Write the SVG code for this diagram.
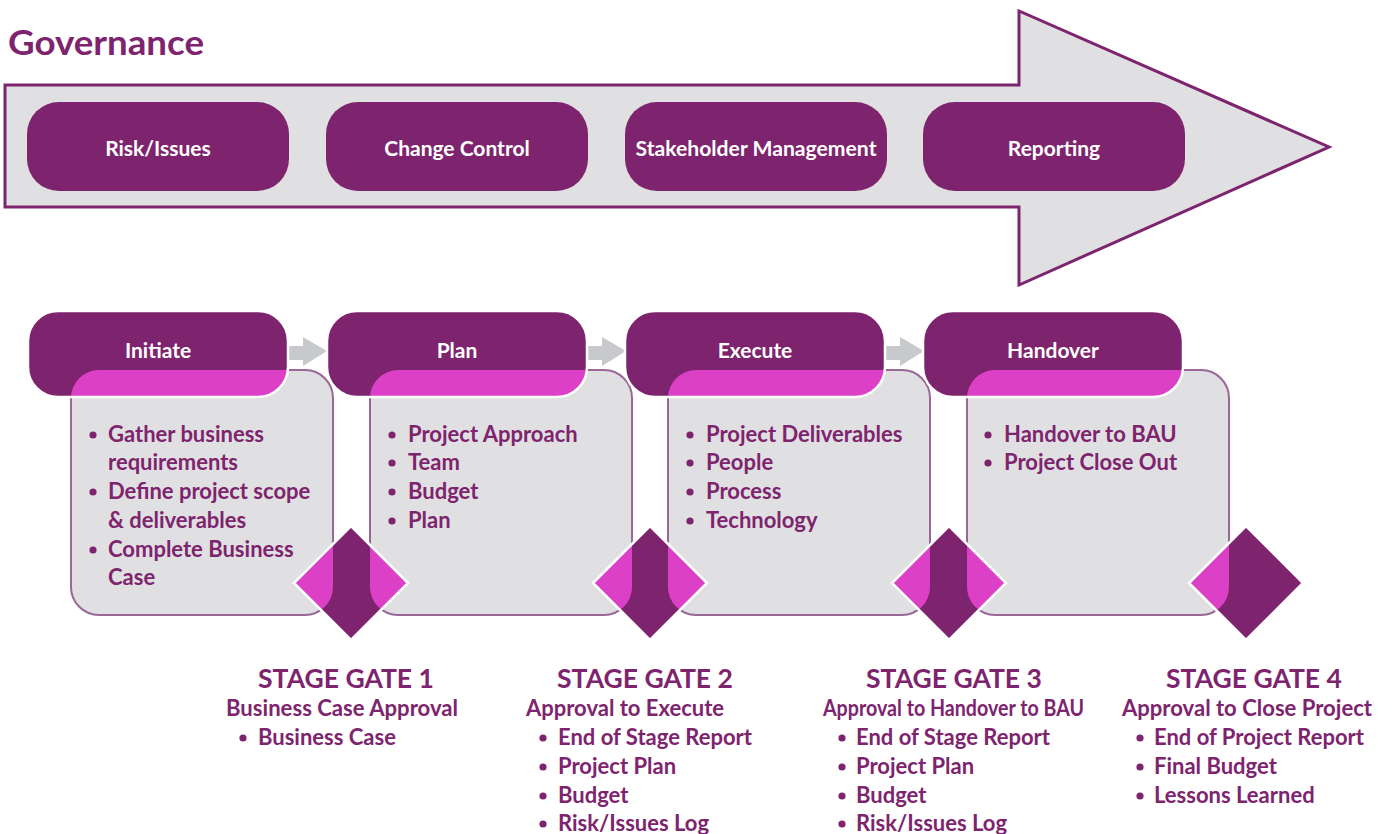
<svg xmlns="http://www.w3.org/2000/svg" width="1392" height="834" viewBox="0 0 1392 834">
<style>
text{font-family:Lato,"Open Sans","Liberation Sans",sans-serif;font-weight:bold}
.pill{fill:#7E246E}
.wl{fill:#FFFFFF;font-size:21px;text-anchor:middle}
.card{fill:#E0E0E2;stroke:#9A6896;stroke-width:2}
.hdr{fill:#7E246E}
.hdrline{fill:none;stroke:#FFFFFF;stroke-width:2.5}
.pink{fill:#DB40C7}
.dia{fill:#7E246E}
.dialine{fill:none;stroke:#FFFFFF;stroke-width:2.5}
.ct{fill:#7E246E;font-size:22px}
.gh{fill:#7E246E;font-size:26.5px;text-anchor:middle}
.gs{fill:#7E246E;font-size:22px}
.dot{fill:#7E246E}
.conn{fill:#C7C9CD}
</style>
<defs>
<clipPath id="cards">
<rect x="71" y="370" width="262" height="245" rx="28"/>
<rect x="370" y="370" width="262" height="245" rx="28"/>
<rect x="668" y="370" width="262" height="245" rx="28"/>
<rect x="967" y="370" width="262" height="245" rx="28"/>
</clipPath>
</defs>
<rect width="1392" height="834" fill="#FFFFFF"/>
<g id="title">
<text x="8" y="55" style="font-size:35px;fill:#7E246E" textLength="196" lengthAdjust="spacingAndGlyphs">Governance</text>
</g>
<g id="governance-arrow">
<polygon points="5,85 1019,85 1019,11 1329,147 1019,285 1019,207 5,207" fill="#E0E0E2" stroke="#7E246E" stroke-width="3"/>
</g>
<g id="gov-risk">
<rect class="pill" x="27" y="102" width="262" height="89" rx="32"/>
<text class="wl" x="158" y="156">Risk/Issues</text>
</g>
<g id="gov-change">
<rect class="pill" x="326" y="102" width="262" height="89" rx="32"/>
<text class="wl" x="457" y="156">Change Control</text>
</g>
<g id="gov-stakeholder">
<rect class="pill" x="625" y="102" width="262" height="89" rx="32"/>
<text class="wl" x="756" y="156" textLength="241" lengthAdjust="spacingAndGlyphs">Stakeholder Management</text>
</g>
<g id="gov-reporting">
<rect class="pill" x="923" y="102" width="262" height="89" rx="32"/>
<text class="wl" x="1054" y="156">Reporting</text>
</g>
<g id="connectors">
<rect class="conn" x="286" y="346" width="18" height="14"/>
<polygon class="conn" points="303,337 327,351 303,366"/>
<rect class="conn" x="585" y="346" width="18" height="14"/>
<polygon class="conn" points="602,337 626,351 602,366"/>
<rect class="conn" x="883" y="346" width="18" height="14"/>
<polygon class="conn" points="900,337 924,351 900,366"/>
</g>
<g id="stage-initiate">
<rect class="card" x="71" y="370" width="262" height="245" rx="28"/>
<rect class="hdr" x="28" y="311" width="260" height="86" rx="30"/>
<rect class="pink" x="28" y="311" width="260" height="86" rx="30" clip-path="url(#cards)"/>
<rect class="hdrline" x="28" y="311" width="260" height="86" rx="30"/>
<text class="wl" x="158" y="358">Initiate</text>
<circle class="dot" cx="93" cy="435" r="3.6"/>
<text class="ct" x="108" y="442">Gather business</text>
<text class="ct" x="108" y="470">requirements</text>
<circle class="dot" cx="93" cy="492" r="3.6"/>
<text class="ct" x="108" y="499">Define project scope</text>
<text class="ct" x="108" y="528">&amp; deliverables</text>
<circle class="dot" cx="93" cy="550" r="3.6"/>
<text class="ct" x="108" y="557">Complete Business</text>
<text class="ct" x="108" y="585">Case</text>
</g>
<g id="stage-plan">
<rect class="card" x="370" y="370" width="262" height="245" rx="28"/>
<rect class="hdr" x="327" y="311" width="260" height="86" rx="30"/>
<rect class="pink" x="327" y="311" width="260" height="86" rx="30" clip-path="url(#cards)"/>
<rect class="hdrline" x="327" y="311" width="260" height="86" rx="30"/>
<text class="wl" x="457" y="358">Plan</text>
<circle class="dot" cx="392" cy="435" r="3.6"/>
<text class="ct" x="408" y="442">Project Approach</text>
<circle class="dot" cx="392" cy="463" r="3.6"/>
<text class="ct" x="408" y="470">Team</text>
<circle class="dot" cx="392" cy="492" r="3.6"/>
<text class="ct" x="408" y="499">Budget</text>
<circle class="dot" cx="392" cy="521" r="3.6"/>
<text class="ct" x="408" y="528">Plan</text>
</g>
<g id="stage-execute">
<rect class="card" x="668" y="370" width="262" height="245" rx="28"/>
<rect class="hdr" x="625" y="311" width="260" height="86" rx="30"/>
<rect class="pink" x="625" y="311" width="260" height="86" rx="30" clip-path="url(#cards)"/>
<rect class="hdrline" x="625" y="311" width="260" height="86" rx="30"/>
<text class="wl" x="755" y="358">Execute</text>
<circle class="dot" cx="690" cy="435" r="3.6"/>
<text class="ct" x="706" y="442">Project Deliverables</text>
<circle class="dot" cx="690" cy="463" r="3.6"/>
<text class="ct" x="706" y="470">People</text>
<circle class="dot" cx="690" cy="492" r="3.6"/>
<text class="ct" x="706" y="499">Process</text>
<circle class="dot" cx="690" cy="521" r="3.6"/>
<text class="ct" x="706" y="528">Technology</text>
</g>
<g id="stage-handover">
<rect class="card" x="967" y="370" width="262" height="245" rx="28"/>
<rect class="hdr" x="923" y="311" width="260" height="86" rx="30"/>
<rect class="pink" x="923" y="311" width="260" height="86" rx="30" clip-path="url(#cards)"/>
<rect class="hdrline" x="923" y="311" width="260" height="86" rx="30"/>
<text class="wl" x="1053" y="358">Handover</text>
<circle class="dot" cx="988" cy="435" r="3.6"/>
<text class="ct" x="1004" y="442">Handover to BAU</text>
<circle class="dot" cx="988" cy="463" r="3.6"/>
<text class="ct" x="1004" y="470">Project Close Out</text>
</g>
<g id="gate-1">
<polygon class="dia" points="351,526 408,583 351,640 294,583"/>
<polygon class="pink" points="351,526 408,583 351,640 294,583" clip-path="url(#cards)"/>
<polygon class="dialine" points="351,526 408,583 351,640 294,583"/>
<text class="gh" x="346" y="688">STAGE GATE 1</text>
<text class="gs" x="226" y="716" textLength="232" lengthAdjust="spacingAndGlyphs">Business Case Approval</text>
<circle class="dot" cx="243" cy="738" r="3.6"/>
<text class="gs" x="258" y="745">Business Case</text>
</g>
<g id="gate-2">
<polygon class="dia" points="650,526 707,583 650,640 593,583"/>
<polygon class="pink" points="650,526 707,583 650,640 593,583" clip-path="url(#cards)"/>
<polygon class="dialine" points="650,526 707,583 650,640 593,583"/>
<text class="gh" x="645" y="688">STAGE GATE 2</text>
<text class="gs" x="526" y="716" textLength="198" lengthAdjust="spacingAndGlyphs">Approval to Execute</text>
<circle class="dot" cx="543" cy="738" r="3.6"/>
<text class="gs" x="558" y="745">End of Stage Report</text>
<circle class="dot" cx="543" cy="767" r="3.6"/>
<text class="gs" x="558" y="774">Project Plan</text>
<circle class="dot" cx="543" cy="796" r="3.6"/>
<text class="gs" x="558" y="803">Budget</text>
<circle class="dot" cx="543" cy="824" r="3.6"/>
<text class="gs" x="558" y="831">Risk/Issues Log</text>
</g>
<g id="gate-3">
<polygon class="dia" points="949,526 1006,583 949,640 892,583"/>
<polygon class="pink" points="949,526 1006,583 949,640 892,583" clip-path="url(#cards)"/>
<polygon class="dialine" points="949,526 1006,583 949,640 892,583"/>
<text class="gh" x="954" y="688">STAGE GATE 3</text>
<text class="gs" x="823" y="716" textLength="261" lengthAdjust="spacingAndGlyphs">Approval to Handover to BAU</text>
<circle class="dot" cx="842" cy="738" r="3.6"/>
<text class="gs" x="856" y="745">End of Stage Report</text>
<circle class="dot" cx="842" cy="767" r="3.6"/>
<text class="gs" x="856" y="774">Project Plan</text>
<circle class="dot" cx="842" cy="796" r="3.6"/>
<text class="gs" x="856" y="803">Budget</text>
<circle class="dot" cx="842" cy="824" r="3.6"/>
<text class="gs" x="856" y="831">Risk/Issues Log</text>
</g>
<g id="gate-4">
<polygon class="dia" points="1246,526 1303,583 1246,640 1189,583"/>
<polygon class="pink" points="1246,526 1303,583 1246,640 1189,583" clip-path="url(#cards)"/>
<polygon class="dialine" points="1246,526 1303,583 1246,640 1189,583"/>
<text class="gh" x="1254" y="688">STAGE GATE 4</text>
<text class="gs" x="1122" y="716" textLength="250" lengthAdjust="spacingAndGlyphs">Approval to Close Project</text>
<circle class="dot" cx="1140" cy="738" r="3.6"/>
<text class="gs" x="1154" y="745">End of Project Report</text>
<circle class="dot" cx="1140" cy="767" r="3.6"/>
<text class="gs" x="1154" y="774">Final Budget</text>
<circle class="dot" cx="1140" cy="796" r="3.6"/>
<text class="gs" x="1154" y="803">Lessons Learned</text>
</g>
</svg>
